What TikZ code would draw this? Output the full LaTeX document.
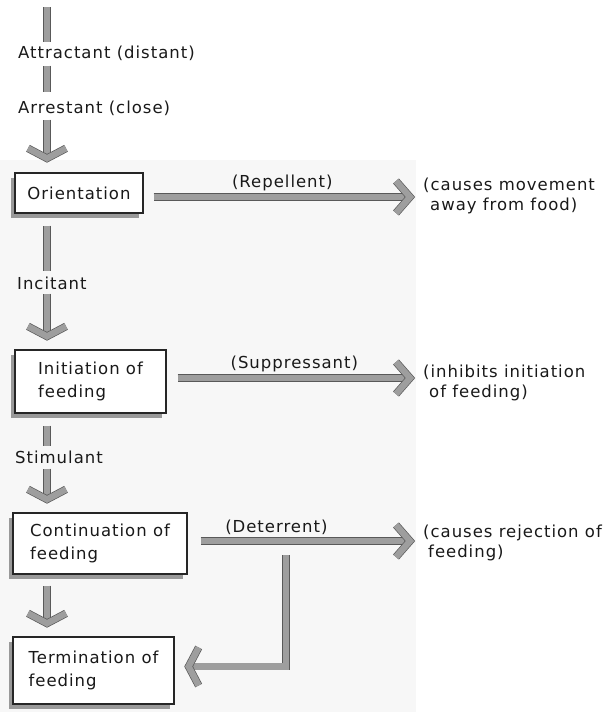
\documentclass[tikz,border=0pt]{standalone}
\usepackage{fontspec}
\setmainfont{DejaVu Sans}[LetterSpace=6]
\usetikzlibrary{calc,shadows}
\begin{document}
\begin{tikzpicture}[x=1pt,y=-1pt,
  txt/.style={inner sep=0pt, font=\fontsize{16.5}{20}\selectfont, text=black!90, align=left},
  lbl/.style={txt, anchor=west},
  tag/.style={txt, above=6pt},
  stage/.style={draw=black!85, line width=1.3pt, fill=white, inner sep=0pt, align=left,
    font=\fontsize{16.5}{23}\selectfont, text=black!90,
    drop shadow={shadow xshift=-4pt, shadow yshift=-5pt, fill=black!40, opacity=1}},
  shaft/.style={draw=black!65, line width=0.7pt, double=black!38, double distance=6.3pt, line join=miter},
  headline/.style={draw=black!65, line width=0.7pt, double=black!38, double distance=6.3pt, line join=miter, miter limit=10},
  chevh/.pic={\draw[headline] (-19,-16) -- (-5,0) -- (-19,16);},
  chevv/.pic={\draw[headline] (-14,-19) -- (-4,0) -- (-14,19);}
]
\useasboundingbox (0,0) rectangle (608,712);
\fill[black!3] (0,160) rectangle (416,712);

% spine
\coordinate (top) at (47,7);

% left column texts and boxes
\node[lbl] (attr) at (18,53) {Attractant (distant)};
\node[lbl] (arrest) at (18,108) {Arrestant (close)};
\node[stage, minimum width=128pt, minimum height=40pt] (orient) at (79,193) {Orientation};
\node[lbl] (incit) at (17,283) {Incitant};
\node[stage, minimum width=151pt, minimum height=63pt] (init) at (90.5,381.5) {Initiation of\\feeding};
\node[lbl] (stim) at (15,457) {Stimulant};
\node[stage, minimum width=174pt, minimum height=61pt] (cont) at (100,543.5) {Continuation of\\feeding};
\node[stage, minimum width=161pt, minimum height=67pt] (term) at (93.5,670.5) {Termination of\\feeding};

% right texts
\node[lbl] (rep) at (423,196) {(causes movement\\\hspace*{7pt}away from food)};
\node[lbl] (inh) at (423,382.5) {(inhibits initiation\\\hspace*{6pt}of feeding)};
\node[lbl] (rej) at (423,543) {(causes rejection of\\\hspace*{5pt}feeding)};

% vertical connectors
\draw[shaft] (top) -- ($(top |- attr.north)+(0,-3)$);
\draw[shaft] ($(attr.south -| top)+(0,5)$) -- ($(arrest.north -| top)+(0,-8)$);
\draw[shaft] ($(arrest.south -| top)+(0,4)$) -- ($(orient.north -| top)+(0,-14)$);
\pic[rotate=-90] at ($(orient.north -| top)+(0,-10)$) {chevv};

\draw[shaft] ($(orient.south -| top)+(0,12)$) -- ($(incit.north -| top)+(0,-5)$);
\draw[shaft] ($(incit.south -| top)+(0,4)$) -- ($(init.north -| top)+(0,-13)$);
\pic[rotate=-90] at ($(init.north -| top)+(0,-9)$) {chevv};

\draw[shaft] ($(init.south -| top)+(0,12)$) -- ($(stim.north -| top)+(0,-4)$);
\draw[shaft] ($(stim.south -| top)+(0,5)$) -- ($(cont.north -| top)+(0,-13)$);
\pic[rotate=-90] at ($(cont.north -| top)+(0,-9)$) {chevv};

\draw[shaft] ($(cont.south -| top)+(0,11)$) -- ($(term.north -| top)+(0,-13)$);
\pic[rotate=-90] at ($(term.north -| top)+(0,-9)$) {chevv};

% horizontal connectors
\draw[shaft] ($(orient.east)+(10,4)$) -- ($(orient.east -| rep.west)+(-12,4)$)
  node[tag, pos=0.5] {(Repellent)};
\pic at ($(orient.east -| rep.west)+(-8,4)$) {chevh};

\draw[shaft] ($(init.east)+(11,-3.5)$) -- ($(init.east -| inh.west)+(-12,-3.5)$)
  node[tag, pos=0.5] {(Suppressant)};
\pic at ($(init.east -| inh.west)+(-8,-3.5)$) {chevh};

\draw[shaft] ($(cont.east)+(13,-2.5)$) -- ($(cont.east -| rej.west)+(-12,-2.5)$)
  node[tag, pos=0.36] {(Deterrent)};
\pic at ($(cont.east -| rej.west)+(-8,-2.5)$) {chevh};

% deterrent feedback to termination
\coordinate (lstart) at (286,555);
\draw[shaft] (lstart) -- ($(lstart |- term.east)+(0,-4)$) -- ($(term.east)+(13,-4)$);
\pic[rotate=180] at ($(term.east)+(10,-4)$) {chevv};
\end{tikzpicture}
\end{document}
